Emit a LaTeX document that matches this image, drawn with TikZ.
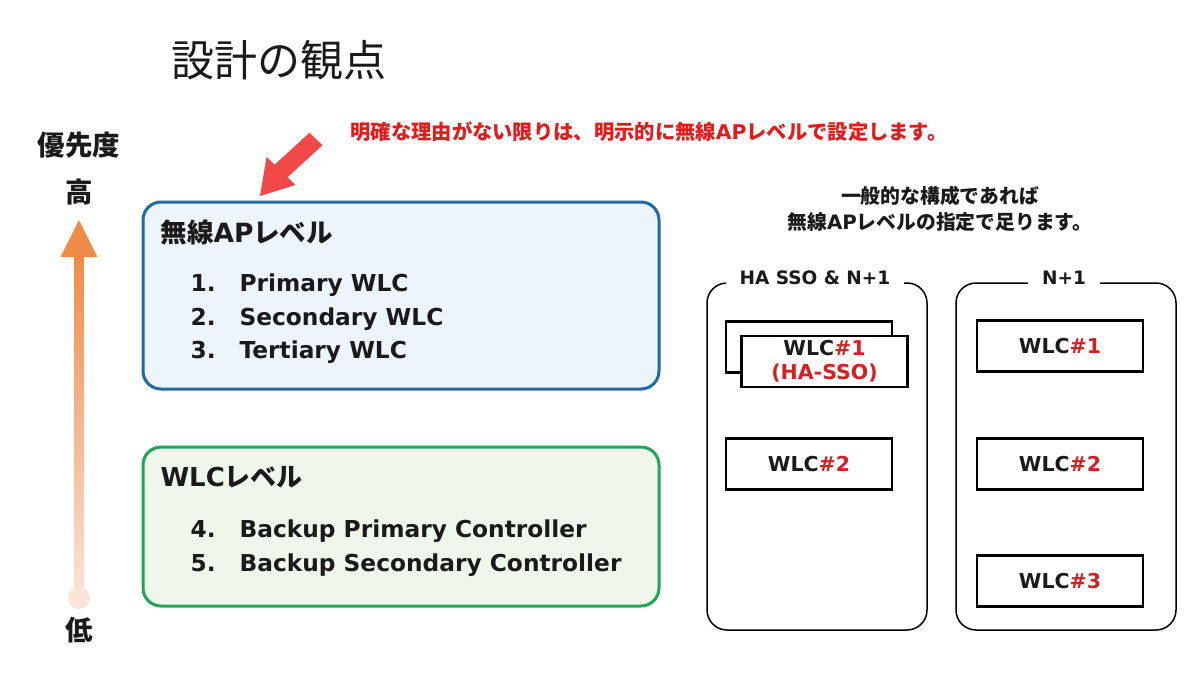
\documentclass[tikz,border=0pt]{standalone}
\usepackage{fontspec}
\setmainfont{Noto Sans CJK JP}
\newfontfamily\lat{DejaVu Sans}
\definecolor{apblue}{HTML}{1E6BA6}
\definecolor{apfill}{HTML}{EEF4FB}
\definecolor{wlcgreen}{HTML}{22A558}
\definecolor{wlcfill}{HTML}{EFF7EC}
\definecolor{notered}{HTML}{E31B1B}
\definecolor{wlcred}{HTML}{D42020}
\definecolor{arrowred}{HTML}{F24848}
\definecolor{arrowtop}{HTML}{EE8C48}
\definecolor{arrowbot}{HTML}{FAE3D8}
\definecolor{txt}{HTML}{1A1A1A}
\tikzset{
  fb/.style={font=\fontsize{#1}{#1}\selectfont\bfseries, text=txt},
  lb/.style={font=\fontsize{#1}{#1}\selectfont\lat\bfseries, text=txt},
  item/.style={anchor=base west, lb=23.3},
  levelbox/.style={line width=3pt, rounded corners=18pt, minimum width=516pt, inner sep=0pt},
  container/.style={draw=black, line width=1.5pt, rounded corners=20pt, minimum width=220pt, minimum height=347pt, inner sep=0pt},
  ctitle/.style={fill=white, inner xsep=14pt, inner ysep=2pt, lb=18.5},
  wlc/.style={draw=black, fill=white, line width=2.5pt, minimum width=166pt, minimum height=51pt, inner sep=0pt, align=center, font=\fontsize{20.5}{24}\selectfont\lat\bfseries, text=txt},
}
\begin{document}
\begin{tikzpicture}[x=1pt,y=-1pt]
\useasboundingbox (0,0) rectangle (1200,675);
\fill[white] (0,0) rectangle (1200,675);

% title
\node[anchor=west, font=\fontsize{43}{46}\selectfont, text=txt] (title) at (168,60) {設計の観点};

% priority axis
\node[fb=27.5] (prio) at (79,145) {優先度};
\node[fb=27.5] (high) at (79,192) {高};
\node[fb=27.5] (low) at (79,630) {低};
\shade[top color=arrowtop, bottom color=arrowbot] (74.5,255) rectangle (83.5,598);
\fill[arrowbot] (79,598) circle (11);
\fill[arrowtop] (79,220) -- (97.5,257) -- (60.5,257) -- cycle;

% red note + arrow
\node[anchor=west, fb=20.3, text=notered] (note) at (347,132) {明確な理由がない限りは、明示的に無線{\lat AP}レベルで設定します。};
\fill[arrowred] (260,196) -- (295.5,185) -- (287.4,177.3) -- (322.4,145.3) -- (309.6,132.7) -- (274.6,164.7) -- (266.5,157) -- cycle;

% AP level box
\node[levelbox, draw=apblue, fill=apfill, minimum height=187pt] (apbox) at (401,295.5) {};
\node[anchor=west, fb=26.5] (aptitle) at (157,232) {無線{\lat AP}レベル};
\node[item] (n1) at (187,291.5) {1.};
\node[item] (i1) at (236,291.5) {Primary WLC};
\node[item] (n2) at (187,325.5) {2.};
\node[item] (i2) at (236,325.5) {Secondary WLC};
\node[item] (n3) at (187,358.5) {3.};
\node[item] (i3) at (236,358.5) {Tertiary WLC};

% WLC level box
\node[levelbox, draw=wlcgreen, fill=wlcfill, minimum height=159pt] (wlcbox) at (401,526.5) {};
\node[anchor=west, fb=26] (wlctitle) at (157,477) {{\lat WLC}レベル};
\node[item] (n4) at (187,537.5) {4.};
\node[item] (i4) at (236,537.5) {Backup Primary Controller};
\node[item] (n5) at (187,571.5) {5.};
\node[item] (i5) at (236,571.5) {Backup Secondary Controller};

% right note
\node[fb=19.8] (r1) at (940,196) {一般的な構成であれば};
\node[fb=19.8] (r2) at (940,222) {無線{\lat AP}レベルの指定で足ります。};

% containers
\node[container] (cl) at (817,456.5) {};
\node[ctitle] (cltitle) at (815,278) {HA SSO \& N+1};
\node[container] (cr) at (1066,456.5) {};
\node[ctitle] (crtitle) at (1064,278) {N+1};

% WLC boxes
\node[wlc] (b1back) at (809,347) {};
\node[wlc] (b1) at (824.5,361.5) {WLC\textcolor{wlcred}{\#1}\\\textcolor{wlcred}{(HA-SSO)}};
\node[wlc] (b2) at (809,464) {WLC\textcolor{wlcred}{\#2}};
\node[wlc] (c1) at (1060,346) {WLC\textcolor{wlcred}{\#1}};
\node[wlc] (c2) at (1060,464) {WLC\textcolor{wlcred}{\#2}};
\node[wlc] (c3) at (1060,581) {WLC\textcolor{wlcred}{\#3}};
\end{tikzpicture}
\end{document}
